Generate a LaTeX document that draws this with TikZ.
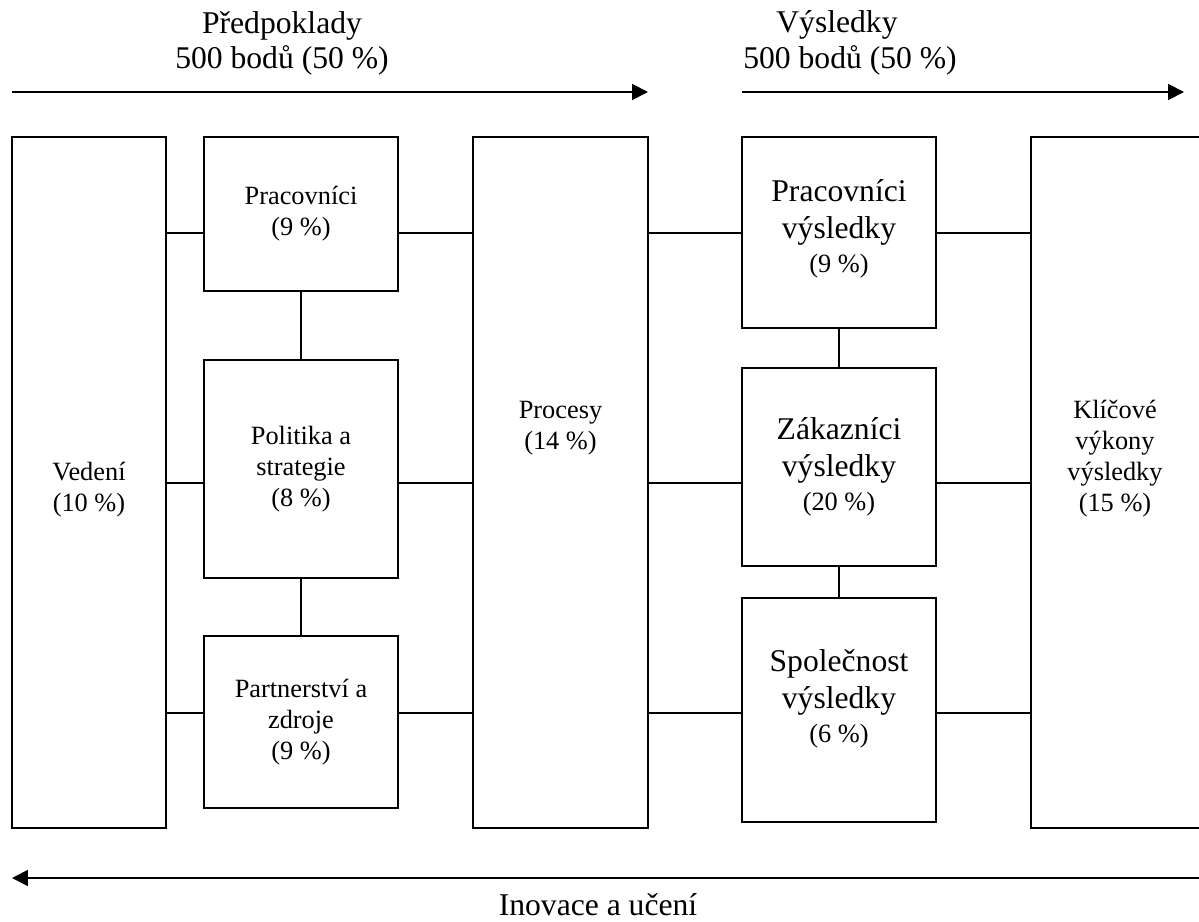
\documentclass[tikz,border=0pt]{standalone}
\usepackage{fontspec}
\setmainfont{Liberation Serif}
\usetikzlibrary{arrows.meta, positioning}
\def\smallfont{\fontsize{15}{17.6}\selectfont}
\def\bigfont{\fontsize{18}{21.5}\selectfont}
\tikzset{
  every picture/.style={line width=1.1pt},
  box/.style={draw, rectangle, inner sep=0pt, align=center, font=\smallfont},
  txt/.style={align=center, font=\smallfont},
  link/.style={draw},
  flow/.style={-{Triangle[length=9pt, width=9pt]}},
  head/.style={align=center, font=\bigfont},
}

\begin{document}
\begin{tikzpicture}[x=0.02cm, y=-0.02cm]
  \useasboundingbox (0,0) rectangle (1199,922);
  % rows of the connectors
  \coordinate (r1) at (0,233);
  \coordinate (r2) at (0,483);
  \coordinate (r3) at (0,713);
  % predpoklady
  \node[box, minimum width=154*0.02cm, minimum height=691*0.02cm] (ved) at (89,482.5) {};
  \node[txt] (vedt) at (89,490) {Vedení\\(10 \%)};
  \node[box, minimum width=194*0.02cm, minimum height=154*0.02cm] (prac) at (301,214) {Pracovníci\\(9 \%)};
  \node[box, minimum width=194*0.02cm, minimum height=218*0.02cm] (pol) at (301,469) {Politika a\\strategie\\(8 \%)};
  \node[box, minimum width=194*0.02cm, minimum height=172*0.02cm] (part) at (301,722) {Partnerství a\\zdroje\\(9 \%)};
  \node[box, minimum width=175*0.02cm, minimum height=691*0.02cm] (proc) at (560.5,482.5) {};
  \node[txt] (proct) at (560.5,428) {Procesy\\(14 \%)};
  % vysledky
  \node[box, minimum width=194*0.02cm, minimum height=191*0.02cm] (pvys) at (839,232.5) {};
  \node[txt] (pvyst) at (839,229) {{\bigfont Pracovníci}\\[3.5pt]{\bigfont výsledky}\\[2pt](9 \%)};
  \node[box, minimum width=194*0.02cm, minimum height=198*0.02cm] (zak) at (839,467) {{\bigfont Zákazníci}\\[3.5pt]{\bigfont výsledky}\\[2pt](20 \%)};
  \node[box, minimum width=194*0.02cm, minimum height=224*0.02cm] (spol) at (839,710) {};
  \node[txt] (spolt) at (839,699) {{\bigfont Společnost}\\[3.5pt]{\bigfont výsledky}\\[2pt](6 \%)};
  \node[box, minimum width=171*0.02cm, minimum height=691*0.02cm] (klic) at (1116.5,482.5) {};
  \node[txt] (klict) at (1115,459) {Klíčové\\výkony\\výsledky\\(15 \%)};
  % spojnice
  \foreach \r in {r1,r2,r3} {
    \draw[link] (ved.east |- \r) -- (prac.west |- \r);
    \draw[link] (prac.east |- \r) -- (proc.west |- \r);
    \draw[link] (proc.east |- \r) -- (pvys.west |- \r);
    \draw[link] (pvys.east |- \r) -- (klic.west |- \r);
  }
  \draw[link] (prac.south) -- (pol.north);
  \draw[link] (pol.south) -- (part.north);
  \draw[link] (pvys.south) -- (zak.north);
  \draw[link] (zak.south) -- (spol.north);
  % sipky
  \coordinate (a1) at (12,92);  \coordinate (a2) at (648,92);
  \coordinate (b1) at (742,92); \coordinate (b2) at (1184,92);
  \coordinate (c1) at (1199,878); \coordinate (c2) at (12,878);
  \draw[flow] (a1) -- (a2);
  \draw[flow] (b1) -- (b2);
  \draw[flow] (c1) -- (c2);
  \node[head] (pred) at (282,43) {Předpoklady\\[-1.5pt]500 bodů (50 \%)};
  \node[head] (vys1) at (837,25) {Výsledky};
  \node[head] (vys2) at (850,60) {500 bodů (50 \%)};
  \node[head] (ino) at (598,905) {Inovace a učení};
\end{tikzpicture}
\end{document}
